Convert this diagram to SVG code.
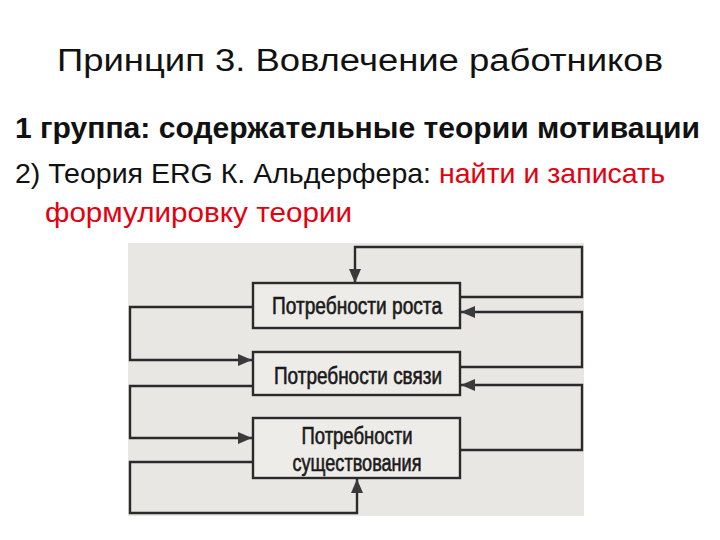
<svg xmlns="http://www.w3.org/2000/svg" width="720" height="540" viewBox="0 0 720 540">
<defs>
<marker id="ah" viewBox="0 0 14 12" refX="14" refY="6" markerWidth="14" markerHeight="12" markerUnits="userSpaceOnUse" orient="auto">
<path d="M0,0 L14,6 L0,12 Z" fill="#3a3a3a"/>
</marker>
<style>
.h{font-family:"Liberation Sans",Arial,sans-serif;fill:#111}
.box{fill:#eeece8;stroke:#2a2a2a;stroke-width:2.4}
.bt{font-family:"Liberation Sans",Arial,sans-serif;font-size:23px;fill:#1a1a1a;stroke:#1a1a1a;stroke-width:0.6;text-anchor:middle}
.c{fill:none;stroke:#2a2a2a;stroke-width:2.4;marker-end:url(#ah)}
</style>
</defs>
<rect width="720" height="540" fill="#ffffff"/>
<text class="h" x="57" y="71" font-size="31" textLength="606" lengthAdjust="spacingAndGlyphs">Принцип 3. Вовлечение работников</text>
<text class="h" x="15" y="138" font-size="29" font-weight="bold" textLength="685" lengthAdjust="spacingAndGlyphs">1 группа: содержательные теории мотивации</text>
<text class="h" x="15" y="183" font-size="28" textLength="650" lengthAdjust="spacingAndGlyphs">2) Теория ERG К. Альдерфера: <tspan fill="#e3000f">найти и записать</tspan></text>
<text class="h" x="45" y="222" font-size="28" style="fill:#e3000f" textLength="307" lengthAdjust="spacingAndGlyphs">формулировку теории</text>
<rect id="scan" x="128" y="243" width="456" height="273" fill="#e9e7e3"/>
<g id="connectors">
<path class="c" d="M460,297 H582 V247 H355 V283"/>
<path class="c" d="M460,367 H582 V312 H461"/>
<path class="c" d="M253,307 H130 V360 H252"/>
<path class="c" d="M460,450 H582 V385 H461"/>
<path class="c" d="M253,386 H130 V438 H252"/>
<path class="c" d="M253,462 H130 V513 H357 V479"/>
</g>
<g id="growth">
<rect class="box" x="253" y="283" width="207" height="45"/>
<text class="bt" x="357" y="314" textLength="170" lengthAdjust="spacingAndGlyphs">Потребности роста</text>
</g>
<g id="relatedness">
<rect class="box" x="253" y="352" width="207" height="43"/>
<text class="bt" x="358" y="384" textLength="168" lengthAdjust="spacingAndGlyphs">Потребности связи</text>
</g>
<g id="existence">
<rect class="box" x="253" y="418" width="207" height="60"/>
<text class="bt" x="357" y="444" textLength="111" lengthAdjust="spacingAndGlyphs">Потребности</text>
<text class="bt" x="357" y="471" textLength="129" lengthAdjust="spacingAndGlyphs">существования</text>
</g>
</svg>
